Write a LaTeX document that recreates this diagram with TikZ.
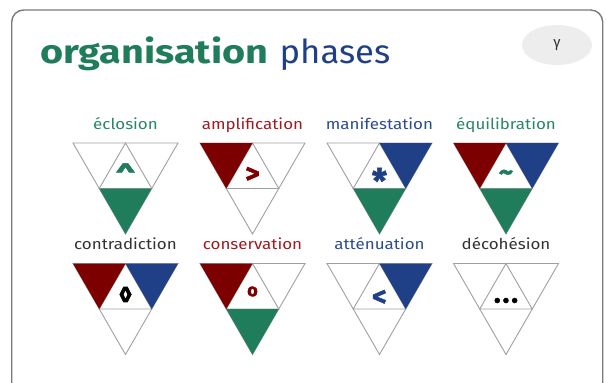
\documentclass[tikz,border=0pt]{standalone}
\usepackage{fontspec}
\usetikzlibrary{shapes.geometric}
\setmainfont{Fira Sans}
\newfontfamily\titlefont[FakeStretch=1.2]{Fira Sans}
\newfontfamily\subfont[FakeStretch=1.05]{Fira Sans}
\newfontfamily\lblfont[FakeStretch=1.13]{Fira Sans}
\newfontfamily\symfont[FakeBold=1.5]{Fira Sans}
\newfontfamily\lozfont[FakeBold=3]{Fira Sans}
\definecolor{pgreen}{HTML}{1F7D5C}
\definecolor{lgreen}{HTML}{2A8763}
\definecolor{pred}{HTML}{7D0000}
\definecolor{lred}{HTML}{9E1B22}
\definecolor{pblue}{HTML}{1F3F87}
\definecolor{lblue}{HTML}{2D4C8E}
\definecolor{ltext}{HTML}{333333}
\definecolor{triline}{HTML}{A0A0A0}
\definecolor{cardline}{HTML}{7A7A7A}
\definecolor{badge}{HTML}{EDEDED}
\newcounter{phn}
\tikzset{
  cardbox/.style={draw=cardline, line width=1.4pt, fill=white, rounded corners=12pt},
  triedge/.style={draw=triline, line width=0.9pt, line join=miter},
  symtext/.style={inner sep=0pt, font=\symfont\bfseries\fontsize{28}{28}\selectfont},
  lbltext/.style={inner sep=0pt, anchor=base, font=\lblfont\fontsize{15}{15}\selectfont},
}
% #1 cx, #2 top y, #3 TL fill, #4 TR fill, #5 bottom fill, #6 symbol options, #7 symbol, #8 label, #9 label colour
\newcommand\phasetri[9]{%
  \stepcounter{phn}%
  \begin{scope}[shift={(#1,#2)}]
    \draw[triedge] (-52.5,0) -- (52.5,0) -- (0,91) -- cycle;
    \draw[triedge] (-26.25,45.5) -- (26.25,45.5) -- (0,0) -- cycle;
    \path[fill=#3] (-52.5,0) -- (0,0) -- (-26.25,45.5) -- cycle;
    \path[fill=#4] (0,0) -- (52.5,0) -- (26.25,45.5) -- cycle;
    \path[fill=#5] (-26.25,45.5) -- (26.25,45.5) -- (0,91) -- cycle;
    \node[symtext, #6] (sym\thephn) at (0,31) {#7};
    \node[lbltext, text=#9] (lbl\thephn) at (0,-14) {#8};
  \end{scope}}
\begin{document}
\begin{tikzpicture}[x=1pt,y=-1pt]
  \useasboundingbox (0,0) rectangle (606,383);
  \clip (0,0) rectangle (606,383);
  \path[cardbox] (11.7,10) rectangle (602.7,398);
  \node[inner sep=0pt, anchor=base west, font=\titlefont\bfseries\fontsize{33}{33}\selectfont, text=pgreen] (title) at (40,63.3) {organisation};
  \node[inner sep=0pt, anchor=base west, font=\subfont\fontsize{33}{33}\selectfont, text=pblue] (subtitle) at ([xshift=11pt]title.base east) {phases};
  \node[ellipse, fill=badge, minimum width=70pt, minimum height=40pt, inner sep=0pt] (badge) at (557,45) {};
  \node[inner sep=0pt, font=\fontsize{15}{15}\selectfont, text=ltext] (gamma) at (badge.center) {γ};
  \phasetri{125.5}{143}{none}{none}{pgreen}{text=pgreen, yshift=-1.5pt}{\scalebox{1.6}[1.3]{\fontsize{22}{22}\selectfont\^{}}}{éclosion}{lgreen}
  \phasetri{252.5}{143}{pred}{none}{none}{text=pred, yshift=-1pt}{>}{amplification}{lred}
  \phasetri{379.5}{143}{none}{pblue}{pgreen}{text=pblue, yshift=-6.5pt}{\fontsize{34}{34}\selectfont *}{manifestation}{lblue}
  \phasetri{506}{143}{pred}{pblue}{pgreen}{text=pgreen, yshift=-1.5pt}{\textasciitilde}{équilibration}{lgreen}
  \phasetri{125.5}{263.5}{pred}{pblue}{none}{text=black}{\lozfont\bfseries\fontsize{22}{22}\selectfont ◊}{contradiction}{ltext}
  \phasetri{252.5}{263.5}{pred}{none}{pgreen}{text=pred, yshift=3pt}{\fontsize{18}{18}\selectfont o}{conservation}{lred}
  \phasetri{379.5}{263.5}{none}{pblue}{none}{text=pblue, yshift=-3.5pt}{<}{atténuation}{lblue}
  \phasetri{506}{263.5}{none}{none}{none}{text=black, yshift=-6pt}{.\kern2pt.\kern2pt.}{décohésion}{ltext}
\end{tikzpicture}
\end{document}
